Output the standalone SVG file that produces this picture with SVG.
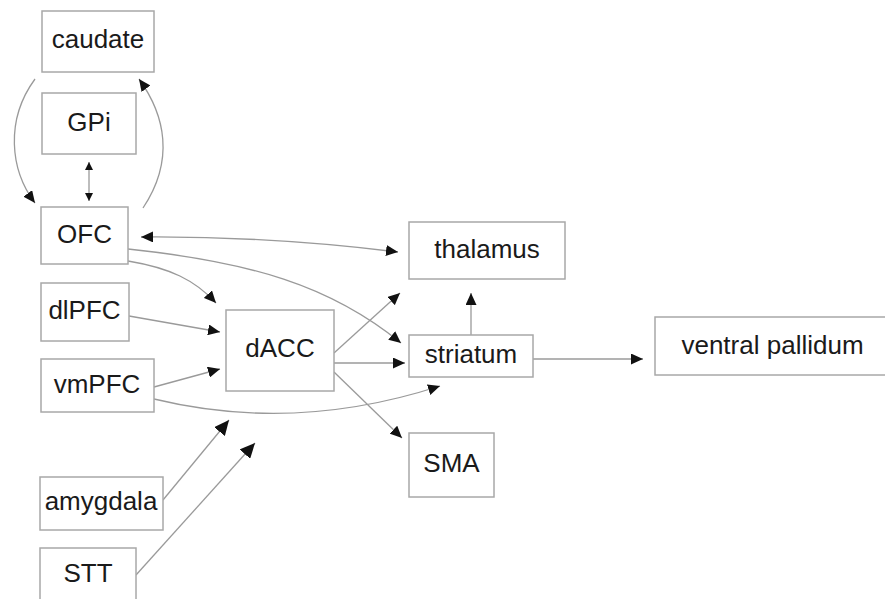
<svg xmlns="http://www.w3.org/2000/svg" width="885" height="599" viewBox="0 0 885 599">
<defs>
<style>
.box{fill:#ffffff;stroke:#a8a8a8;stroke-width:1.5}
.lbl{font-family:"Liberation Sans",Arial,sans-serif;font-size:26px;fill:#1a1a1a;text-anchor:middle}
.edge{fill:none;stroke:#9a9a9a;stroke-width:1.3}
.m{marker-end:url(#ah)}
.big{marker-end:url(#ahb)}
.dbl{marker-start:url(#ahr);marker-end:url(#ahr)}
.dbls{marker-start:url(#ahs);marker-end:url(#ahs)}
</style>
<marker id="ah" markerUnits="userSpaceOnUse" markerWidth="13" markerHeight="11" refX="12" refY="5.5" orient="auto"><path d="M0,0 L12,5.5 L0,11 z" fill="#111"/></marker>
<marker id="ahr" markerUnits="userSpaceOnUse" markerWidth="13" markerHeight="11" refX="12" refY="5.5" orient="auto-start-reverse"><path d="M0,0 L12,5.5 L0,11 z" fill="#111"/></marker>
<marker id="ahb" markerUnits="userSpaceOnUse" markerWidth="16" markerHeight="14" refX="15" refY="7" orient="auto"><path d="M0,0 L15,7 L0,14 z" fill="#111"/></marker>
<marker id="ahs" markerUnits="userSpaceOnUse" markerWidth="9" markerHeight="8" refX="8" refY="4" orient="auto-start-reverse"><path d="M0,0 L8,4 L0,8 z" fill="#111"/></marker>
</defs>
<rect width="885" height="599" fill="#ffffff"/>
<g id="connectors">
<path class="edge m" d="M35,79 C5,120 10,170 35,203"/>
<path class="edge m" d="M143,208 C175,160 165,115 139,79"/>
<path class="edge dbls" d="M89,162 L89,201"/>
<path class="edge dbl" d="M141,237 Q270,236 398,252"/>
<path class="edge m" d="M128,261 C170,268 195,280 216,303"/>
<path class="edge m" d="M128,249 C250,262 330,285 401,343"/>
<path class="edge m" d="M129,316 L220,332"/>
<path class="edge m" d="M154,387 L220,369"/>
<path class="edge m" d="M154,399 C220,415 320,425 440,386"/>
<path class="edge big" d="M163,500 L229,420"/>
<path class="edge big" d="M136,575 L255,443"/>
<path class="edge m" d="M334,353 L400,293"/>
<path class="edge m" d="M334,363 L405,363"/>
<path class="edge m" d="M334,372 L402,438"/>
<path class="edge m" d="M471,335 L471,293"/>
<path class="edge m" d="M533,359 L643,359"/>
</g>
<g id="caudate"><rect class="box" x="42" y="11" width="112" height="61"/><text class="lbl" x="98" y="48">caudate</text></g>
<g id="GPi"><rect class="box" x="42" y="93" width="94" height="61"/><text class="lbl" x="89" y="131">GPi</text></g>
<g id="OFC"><rect class="box" x="41" y="207" width="87" height="57"/><text class="lbl" x="84.5" y="243">OFC</text></g>
<g id="dlPFC"><rect class="box" x="41" y="283" width="88" height="58"/><text class="lbl" x="84.5" y="319">dlPFC</text></g>
<g id="vmPFC"><rect class="box" x="41" y="359" width="113" height="53"/><text class="lbl" x="97" y="393">vmPFC</text></g>
<g id="amygdala"><rect class="box" x="40" y="477" width="123" height="53"/><text class="lbl" x="101" y="510">amygdala</text></g>
<g id="STT"><rect class="box" x="40" y="548" width="96" height="60"/><text class="lbl" x="88" y="582">STT</text></g>
<g id="dACC"><rect class="box" x="226" y="310" width="108" height="81"/><text class="lbl" x="280" y="357">dACC</text></g>
<g id="thalamus"><rect class="box" x="409" y="222" width="156" height="57"/><text class="lbl" x="487" y="258">thalamus</text></g>
<g id="striatum"><rect class="box" x="409" y="335" width="124" height="42"/><text class="lbl" x="471" y="363">striatum</text></g>
<g id="SMA"><rect class="box" x="409" y="433" width="85" height="64"/><text class="lbl" x="451.5" y="472">SMA</text></g>
<g id="ventral-pallidum"><rect class="box" x="655" y="317" width="240" height="58"/><text class="lbl" x="772.5" y="354">ventral pallidum</text></g>
</svg>
